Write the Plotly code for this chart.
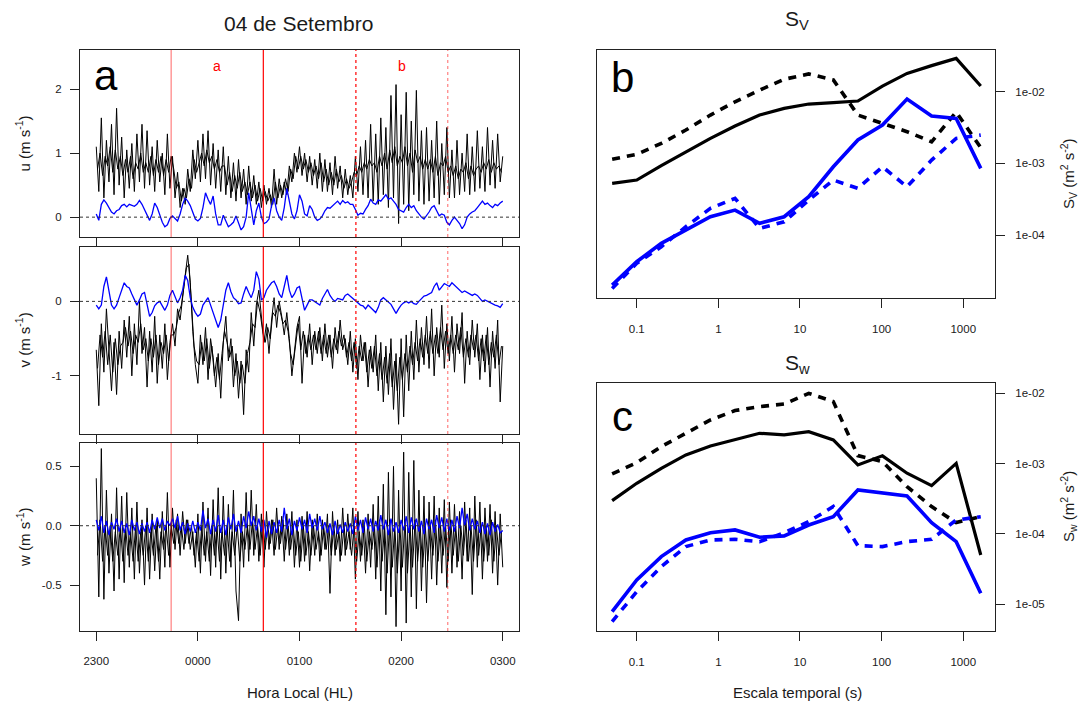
import numpy as np
import plotly.graph_objects as go

W, H = 1083, 705

# ---------------- DATA ----------------
hour_ticks = [0, 1, 2, 3, 4]
hour_labels = ["2300", "0000", "0100", "0200", "0300"]
marks_t = [0.737, 1.644, 2.555, 3.459]
mark_colors = ["rgba(255,0,0,0.5)", "rgb(255,0,0)", "rgb(255,0,0)", "rgba(255,0,0,0.5)"]
mark_dash = ["solid", "solid", "dot", "dot"]
period_labels = ["a", "b"]

# black series: excursion samples (161, every 1.5 min) + in-between core samples (160)
u_black = [1.10, 0.40, 1.55, 0.30, 1.20, 0.55, 1.45, 0.35, 1.70, 0.50,
           1.25, 0.30, 1.05, 0.45, 1.15, 0.40, 1.30, 0.55, 1.45, 0.45,
           1.35, 0.50, 1.10, 0.40, 1.20, 0.55, 1.00, 0.35, 1.30, 0.45,
           0.95, 0.30, 0.70, 0.15, 0.45, 0.20, 0.75, 0.40, 1.05, 0.60,
           1.20, 0.55, 1.30, 0.60, 1.35, 0.50, 1.15, 0.45, 1.05, 0.40,
           1.10, 0.35, 0.95, 0.30, 0.85, 0.25, 0.90, 0.30, 0.75, 0.20,
           0.80, 0.25, 0.65, 0.20, 0.55, 0.15, 0.50, 0.20, 0.45, 0.15,
           0.75, 0.20, 0.60, 0.30, 0.55, 0.35, 0.80, 0.55, 1.00, 0.70,
           1.10, 0.65, 1.00, 0.55, 0.95, 0.50, 0.90, 0.45, 1.00, 0.40,
           0.90, 0.40, 0.85, 0.35, 0.95, 0.45, 0.80, 0.30, 0.75, 0.35,
           0.65, 0.30, 0.95, 0.40, 1.10, 0.35, 1.20, 0.30, 1.45, 0.25,
           1.30, 0.20, 1.55, 0.35, 1.40, 0.15, 1.90, 0.30, 2.07, -0.10,
           1.60, 0.20, 1.95, 0.10, 1.50, 0.35, 1.98, 0.25, 1.35, 0.20,
           1.40, 0.25, 1.20, 0.30, 1.50, 0.20, 1.15, 0.35, 1.40, 0.30,
           1.05, 0.30, 1.20, 0.35, 1.00, 0.40, 1.30, 0.35, 1.10, 0.40,
           1.35, 0.45, 1.10, 0.40, 1.40, 0.50, 1.20, 0.45, 1.30, 0.55,
           0.95]
u_black_core = [0.75, 1.00, 0.65, 0.95, 0.80, 1.10, 0.70, 1.05, 0.75, 0.95,
                0.65, 0.90, 0.70, 0.95, 0.60, 0.85, 0.75, 1.00, 0.70, 0.85,
                0.70, 0.95, 0.65, 0.90, 0.70, 0.95, 0.65, 0.90, 0.70, 0.95,
                0.75, 0.45, 0.55, 0.25, 0.45, 0.30, 0.60, 0.45, 0.90, 0.70,
                0.85, 1.00, 0.80, 1.05, 0.85, 0.95, 0.75, 0.90, 0.70, 0.80,
                0.80, 0.50, 0.70, 0.40, 0.65, 0.45, 0.70, 0.40, 0.55, 0.35,
                0.55, 0.30, 0.50, 0.25, 0.45, 0.25, 0.40, 0.25, 0.35, 0.20,
                0.55, 0.30, 0.50, 0.35, 0.60, 0.40, 0.75, 0.60, 0.95, 0.75,
                0.95, 0.75, 0.90, 0.70, 0.85, 0.65, 0.80, 0.60, 0.85, 0.55,
                0.75, 0.50, 0.70, 0.50, 0.75, 0.55, 0.65, 0.45, 0.60, 0.45,
                0.55, 0.70, 0.65, 0.80, 0.70, 0.85, 0.75, 0.90, 0.80, 0.85,
                0.70, 0.95, 0.80, 1.00, 0.75, 1.05, 0.85, 1.10, 0.80, 0.95,
                0.85, 1.10, 0.80, 1.00, 0.70, 1.05, 0.85, 0.95, 0.75, 0.90,
                0.75, 0.90, 0.70, 0.95, 0.65, 0.85, 0.80, 0.95, 0.70, 0.80,
                0.65, 0.80, 0.60, 0.75, 0.70, 0.85, 0.60, 0.80, 0.65, 0.75,
                0.80, 0.70, 0.85, 0.75, 0.90, 0.70, 0.85, 0.75, 0.80, 0.70]

u_blue = [0.05, -0.05, 0.20, 0.27, 0.22, 0.15, 0.08, 0.05, 0.10, 0.12,
          0.18, 0.20, 0.16, 0.20, 0.18, 0.17, 0.20, 0.26, 0.20, 0.12,
          0.03, -0.05, 0.05, 0.22, 0.15, 0.03, -0.08, -0.15, -0.12, -0.02,
          0.02, -0.02, -0.06, 0.05, 0.20, 0.30, 0.25, 0.18, 0.08, -0.03,
          -0.06, -0.02, 0.15, 0.38, 0.28, 0.20, 0.33, 0.05, -0.12, -0.12,
          0.03, -0.05, -0.15, -0.12, -0.08, 0.02, -0.10, -0.20, -0.15, 0.00,
          0.38, 0.15, -0.12, 0.10, 0.22, 0.00, -0.10, -0.08, -0.03, 0.18,
          0.30, 0.10, 0.00, -0.05, 0.15, 0.45, 0.25, 0.05, -0.03, 0.10,
          0.35, 0.25, 0.05, 0.02, 0.18, 0.12, 0.00, -0.05, -0.03, 0.02,
          0.10, 0.15, 0.14, 0.18, 0.22, 0.25, 0.20, 0.26, 0.22, 0.24,
          0.20, 0.20, 0.12, 0.03, 0.06, 0.05, 0.12, 0.18, 0.28, 0.22,
          0.20, 0.27, 0.25, 0.30, 0.35, 0.28, 0.30, 0.25, 0.20, 0.12,
          0.10, 0.08, 0.15, 0.20, 0.15, 0.18, 0.10, 0.05, 0.00, -0.03,
          0.02, 0.08, 0.15, 0.18, 0.10, 0.02, 0.05, 0.03, -0.08, -0.12,
          -0.05, 0.00, -0.05, -0.10, -0.18, -0.12, 0.00, 0.05, 0.08, 0.10,
          0.15, 0.20, 0.25, 0.20, 0.22, 0.18, 0.15, 0.20, 0.18, 0.22,
          0.25]

v_black = [-0.65, -1.40, -0.30, -0.95, -0.10, -0.70, -1.20, -0.55, -1.25, -0.40,
           -0.90, -0.25, -0.75, -0.20, -1.00, -0.30, -0.85, 0.00, -0.70, -0.35,
           -1.15, -0.40, -0.95, -0.20, -1.10, -0.45, -0.90, -0.30, -1.05, -0.55,
           -0.30, -0.60, -0.10, -0.25, 0.10, 0.35, 0.62, 0.25, -0.40, -0.85,
           -1.10, -0.45, -0.85, -0.35, -1.05, -0.50, -0.75, -1.15, -0.70, -1.30,
           -0.55, -0.20, -0.80, -0.50, -1.15, -0.70, -1.30, -0.80, -1.52, -0.65,
           -0.95, -0.15, -0.60, -0.05, 0.15, -0.25, -0.55, -0.30, -0.70, -0.25,
           0.05, -0.35, 0.00, -0.20, -0.45, -0.15, -0.50, -1.00, -0.70, -0.35,
           -0.20, -1.10, -0.45, -0.75, -0.30, -0.85, -0.40, -0.70, -0.35, -0.80,
           -0.30, -0.75, -0.45, -0.90, -0.35, -0.70, -0.25, -0.65, -0.50, -0.85,
           -0.40, -0.95, -0.50, -1.05, -0.45, -0.80, -0.55, -1.15, -0.60, -0.95,
           -0.45, -1.20, -0.55, -1.35, -0.60, -1.25, -0.50, -1.45, -0.70, -1.65,
           -0.50, -1.55, -0.45, -1.20, -0.40, -1.05, -0.25, -0.95, -0.35, -0.85,
           -0.20, -0.90, -0.10, -1.00, -0.35, -0.75, -0.05, -0.90, -0.30, -0.80,
           -0.20, -0.95, -0.30, -0.70, -0.15, -1.10, -0.40, -0.85, -0.25, -0.75,
           -0.30, -1.05, -0.45, -0.95, -0.35, -1.15, -0.40, -0.90, -0.25, -1.35,
           -0.60]
v_black_core = [-0.90, -0.45, -0.75, -0.40, -0.85, -0.45, -0.95, -0.50, -0.85, -0.60,
                -0.55, -0.35, -0.60, -0.40, -0.70, -0.45, -0.55, -0.30, -0.65, -0.50,
                -0.80, -0.50, -0.75, -0.45, -0.85, -0.55, -0.70, -0.45, -0.80, -0.45,
                -0.45, -0.35, -0.15, -0.05, 0.20, 0.45, 0.50, 0.00, -0.60, -0.80,
                -0.85, -0.55, -0.80, -0.50, -0.90, -0.60, -1.00, -0.75, -1.05, -0.70,
                -0.40, -0.55, -0.75, -0.60, -1.00, -0.80, -1.10, -0.85, -1.10, -0.70,
                -0.55, -0.30, -0.35, 0.00, -0.15, -0.40, -0.55, -0.35, -0.50, -0.15,
                -0.20, -0.05, -0.15, -0.30, -0.25, -0.40, -0.70, -0.85, -0.55, -0.30,
                -0.65, -0.40, -0.70, -0.45, -0.65, -0.45, -0.65, -0.40, -0.70, -0.45,
                -0.70, -0.45, -0.75, -0.50, -0.65, -0.40, -0.60, -0.45, -0.75, -0.55,
                -0.80, -0.55, -0.90, -0.60, -0.80, -0.55, -0.95, -0.65, -0.90, -0.60,
                -1.00, -0.70, -1.05, -0.75, -1.10, -0.70, -1.15, -0.80, -1.20, -0.75,
                -1.05, -0.70, -0.95, -0.60, -0.85, -0.55, -0.80, -0.50, -0.75, -0.45,
                -0.70, -0.40, -0.70, -0.45, -0.70, -0.35, -0.65, -0.40, -0.70, -0.45,
                -0.70, -0.45, -0.65, -0.35, -0.75, -0.50, -0.75, -0.45, -0.65, -0.45,
                -0.80, -0.50, -0.80, -0.45, -0.85, -0.55, -0.75, -0.45, -0.85, -0.60]

v_blue = [-0.05, -0.10, -0.05, 0.20, 0.33, 0.12, -0.05, -0.10, -0.05, 0.05,
          0.15, 0.25, 0.20, 0.18, 0.10, 0.03, -0.05, 0.02, 0.10, 0.12,
          -0.05, -0.20, -0.15, -0.06, -0.02, 0.00, -0.06, -0.12, -0.05, 0.08,
          0.15, 0.05, -0.02, 0.05, 0.15, 0.35, 0.28, 0.05, -0.08, -0.15,
          -0.20, -0.17, -0.05, 0.00, 0.05, -0.05, -0.15, -0.22, -0.35, -0.25,
          -0.05, 0.15, 0.25, 0.13, 0.05, 0.02, -0.03, -0.02, 0.10, 0.20,
          0.12, 0.05, 0.15, 0.40, 0.30, 0.02, 0.05, 0.15, 0.20, 0.25,
          0.27, 0.20, 0.10, 0.05, 0.20, 0.35, 0.15, 0.05, 0.10, 0.18,
          0.20, 0.02, -0.12, -0.05, 0.02, 0.02, 0.00, -0.03, -0.05, 0.04,
          0.10, 0.16, 0.08, 0.03, 0.00, 0.04, 0.03, 0.02, 0.08, 0.10,
          0.07, 0.04, 0.00, -0.03, -0.05, -0.06, -0.10, -0.05, -0.08, -0.12,
          -0.15, -0.08, 0.02, 0.05, 0.02, 0.00, -0.04, -0.10, -0.16, -0.10,
          -0.05, -0.02, 0.00, -0.02, 0.00, -0.03, -0.04, 0.00, 0.04, 0.07,
          0.08, 0.10, 0.12, 0.20, 0.25, 0.15, 0.20, 0.24, 0.22, 0.20,
          0.25, 0.22, 0.18, 0.15, 0.12, 0.14, 0.12, 0.10, 0.08, 0.10,
          0.08, 0.04, 0.00, 0.02, 0.00, -0.02, -0.03, -0.05, -0.06, -0.08,
          -0.03]

w_black = [0.40, -0.60, 0.65, -0.62, 0.30, -0.40, 0.10, -0.55, 0.32, -0.45,
           0.25, -0.48, 0.28, -0.35, 0.15, -0.45, 0.20, -0.40, 0.05, -0.50,
           0.15, -0.45, 0.10, -0.38, 0.05, -0.45, 0.12, -0.35, 0.28, -0.35,
           0.15, -0.20, 0.10, -0.25, 0.12, -0.15, 0.05, -0.20, -0.05, -0.35,
           0.10, -0.40, 0.20, -0.30, 0.15, -0.42, 0.22, -0.35, 0.32, -0.45,
           0.25, -0.40, 0.18, -0.35, 0.30, -0.55, -0.80, 0.10, -0.35, 0.28,
           -0.30, 0.30, -0.25, 0.18, -0.30, 0.10, -0.35, 0.12, -0.20, 0.05,
           -0.25, 0.15, -0.20, 0.08, -0.30, 0.10, -0.25, 0.12, -0.35, 0.05,
           -0.35, 0.08, -0.30, 0.12, -0.38, 0.05, -0.25, 0.10, -0.30, 0.05,
           -0.20, 0.10, -0.57, 0.12, -0.25, 0.05, -0.30, 0.15, -0.25, 0.10,
           -0.20, 0.15, -0.45, 0.12, -0.30, 0.05, -0.40, 0.10, -0.35, 0.18,
           -0.45, 0.25, -0.55, 0.35, -0.75, 0.45, -0.60, 0.50, -0.85, 0.30,
           -0.55, 0.62, -0.82, 0.45, -0.60, 0.55, -0.70, 0.30, -0.55, 0.25,
           -0.65, 0.20, -0.45, 0.25, -0.50, 0.15, -0.40, 0.22, -0.52, 0.20,
           -0.40, 0.18, -0.35, 0.12, -0.45, 0.20, -0.30, 0.15, -0.58, 0.25,
           -0.35, 0.20, -0.45, 0.15, -0.30, 0.18, -0.40, 0.12, -0.50, 0.10,
           -0.35]
w_black_core = [-0.25, 0.05, -0.30, 0.00, -0.25, 0.00, -0.30, -0.05, -0.25, 0.00,
                -0.30, 0.00, -0.25, -0.05, -0.30, 0.00, -0.30, -0.05, -0.25, 0.00,
                -0.30, -0.05, -0.25, 0.00, -0.30, -0.05, -0.20, 0.00, -0.25, 0.00,
                -0.15, 0.05, -0.15, 0.00, -0.20, 0.05, -0.15, 0.00, -0.25, -0.05,
                -0.30, 0.00, -0.25, -0.05, -0.30, 0.00, -0.25, 0.00, -0.30, -0.05,
                -0.25, 0.00, -0.30, -0.05, -0.25, 0.00, -0.30, -0.05, -0.20, 0.00,
                -0.20, 0.05, -0.20, 0.00, -0.25, 0.05, -0.20, 0.00, -0.15, 0.05,
                -0.20, 0.00, -0.15, 0.05, -0.20, 0.00, -0.20, 0.00, -0.25, -0.05,
                -0.30, 0.00, -0.25, -0.05, -0.25, 0.00, -0.20, -0.05, -0.25, 0.00,
                -0.20, 0.00, -0.25, 0.00, -0.20, -0.05, -0.25, 0.00, -0.20, -0.05,
                -0.25, 0.00, -0.30, -0.05, -0.25, 0.00, -0.30, -0.05, -0.20, 0.00,
                -0.35, 0.05, -0.30, 0.00, -0.40, 0.05, -0.35, 0.00, -0.40, 0.00,
                -0.35, 0.05, -0.40, 0.00, -0.35, 0.05, -0.30, 0.00, -0.35, 0.00,
                -0.30, 0.00, -0.25, 0.05, -0.30, 0.00, -0.25, 0.00, -0.30, 0.05,
                -0.25, 0.00, -0.30, 0.00, -0.25, 0.05, -0.30, 0.00, -0.30, 0.05,
                -0.25, 0.00, -0.30, 0.00, -0.25, 0.05, -0.30, 0.00, -0.25, -0.05]

w_blue = [0.05, -0.04, 0.08, -0.06, 0.04, -0.08, 0.03, -0.03, 0.06, -0.05,
          0.04, -0.06, 0.02, -0.08, 0.05, -0.04, 0.03, -0.07, 0.02, -0.05,
          0.03, -0.06, 0.05, -0.03, 0.07, -0.02, 0.06, -0.04, 0.04, 0.00,
          0.06, -0.02, 0.08, -0.04, 0.03, -0.07, 0.02, -0.05, 0.04, -0.06,
          0.03, -0.04, 0.13, -0.02, 0.06, -0.07, 0.05, -0.05, 0.09, -0.06,
          0.05, -0.08, 0.07, -0.03, 0.10, -0.05, 0.04, -0.06, 0.08, -0.02,
          0.12, 0.00, 0.08, -0.04, 0.06, -0.05, 0.05, -0.10, 0.04, -0.07,
          0.03, -0.06, 0.05, -0.05, 0.15, -0.03, 0.06, -0.08, 0.04, -0.04,
          0.07, -0.03, 0.05, -0.06, 0.10, -0.02, 0.06, -0.04, 0.08, -0.03,
          0.03, -0.06, 0.02, -0.08, 0.04, -0.07, 0.01, -0.06, 0.03, -0.05,
          0.02, -0.07, 0.08, -0.04, 0.05, -0.06, 0.07, -0.03, 0.06, -0.05,
          0.04, -0.04, 0.09, -0.03, 0.05, -0.08, 0.06, -0.05, 0.03, -0.06,
          0.05, -0.04, 0.08, -0.06, 0.07, -0.03, 0.06, -0.05, 0.04, -0.07,
          0.06, -0.03, 0.05, -0.06, 0.09, -0.02, 0.07, -0.05, 0.06, -0.04,
          0.05, -0.05, 0.08, -0.02, 0.15, 0.00, 0.10, -0.04, 0.06, -0.03,
          0.04, -0.06, 0.03, -0.07, 0.02, -0.08, 0.03, -0.05, 0.01, -0.06,
          -0.04]

scales = [0.05, 0.1, 0.2, 0.4, 0.8, 1.6, 3.2, 6.4, 12.8, 25.6, 51.2, 102.4, 204.8, 409.6, 819.2, 1638.4]
scale_ticks = [0.1, 1, 10, 100, 1000]
scale_tick_labels = ["0.1", "1", "10", "100", "1000"]

sv_black_solid = [5.26e-4, 5.85e-4, 9.3e-4, 1.46e-3, 2.23e-3, 3.32e-3, 4.72e-3, 5.85e-3,
                  6.73e-3, 7.03e-3, 7.41e-3, 1.20e-2, 1.80e-2, 2.31e-2, 2.92e-2, 1.20e-2]
sv_black_dash = [1.14e-3, 1.34e-3, 1.90e-3, 2.92e-3, 4.72e-3, 7.24e-3, 1.05e-2, 1.49e-2,
                 1.77e-2, 1.46e-2, 4.72e-3, 3.6e-3, 2.77e-3, 2.0e-3, 5.21e-3, 1.66e-3]
sv_blue_solid = [2.0e-5, 4.25e-5, 7.66e-5, 1.17e-4, 1.80e-4, 2.23e-4, 1.46e-4, 1.80e-4,
                 3.43e-4, 8.97e-4, 2.12e-3, 3.43e-3, 7.91e-3, 4.57e-3, 4.25e-3, 8.51e-4]
sv_blue_dash = [1.80e-5, 4.03e-5, 6.87e-5, 1.31e-4, 2.36e-4, 3.25e-4, 1.24e-4, 1.53e-4,
                3.08e-4, 5.85e-4, 4.48e-4, 8.97e-4, 4.72e-4, 1.11e-3, 2.23e-3, 2.48e-3]

sw_black_solid = [2.98e-4, 5.25e-4, 8.59e-4, 1.33e-3, 1.78e-3, 2.17e-3, 2.70e-3, 2.56e-3,
                  2.85e-3, 2.17e-3, 9.57e-4, 1.29e-3, 7.30e-4, 4.86e-4, 1.01e-3, 5.02e-5]
sw_black_dash = [7.13e-4, 1.03e-3, 1.75e-3, 2.70e-3, 4.18e-3, 5.68e-3, 6.46e-3, 7.05e-3,
                 1.0e-2, 7.62e-3, 1.3e-3, 1.07e-3, 4.71e-4, 2.45e-4, 1.45e-4, 1.76e-4]
sw_blue_solid = [7.87e-6, 2.22e-5, 4.76e-5, 8.22e-5, 1.04e-4, 1.14e-4, 8.97e-5, 9.38e-5,
                 1.34e-4, 1.76e-4, 4.23e-4, 3.87e-4, 3.47e-4, 1.45e-4, 7.78e-5, 1.43e-5]
sw_blue_dash = [5.68e-6, 1.51e-5, 3.44e-5, 6.61e-5, 8.22e-5, 8.39e-5, 7.78e-5, 1.04e-4,
                1.50e-4, 2.45e-4, 6.82e-5, 6.61e-5, 7.78e-5, 8.39e-5, 1.58e-4, 1.76e-4]

sv_ticks = [1e-2, 1e-3, 1e-4]
sv_tick_labels = ["1e-02", "1e-03", "1e-04"]
sw_ticks = [1e-2, 1e-3, 1e-4, 1e-5]
sw_tick_labels = ["1e-02", "1e-03", "1e-04", "1e-05"]

# ---------------- FIGURE ----------------
t_main = np.linspace(0, 4, len(u_black))
t_mid = (t_main[:-1] + t_main[1:]) / 2

FONT = "Liberation Sans, Arial, sans-serif"
INK = "#1a1a1a"


def fx(px):
    return px / W


def fy(py):
    return 1 - py / H


fig = go.Figure()

left_panels = [
    ("x", "y", u_black, u_black_core, u_blue),
    ("x2", "y2", v_black, v_black_core, v_blue),
    ("x3", "y3", w_black, w_black_core, w_blue),
]
for xa, ya, blk, core, blu in left_panels:
    fig.add_trace(go.Scatter(x=t_main, y=blk, xaxis=xa, yaxis=ya, mode="lines",
                             line=dict(color="black", width=1), showlegend=False))
    fig.add_trace(go.Scatter(x=t_mid, y=core, xaxis=xa, yaxis=ya, mode="lines",
                             line=dict(color="black", width=1), showlegend=False))
    fig.add_trace(go.Scatter(x=t_main, y=blu, xaxis=xa, yaxis=ya, mode="lines",
                             line=dict(color="#0000ff", width=1.3), showlegend=False))

right_panels = [
    ("x4", "y4", sv_black_solid, sv_black_dash, sv_blue_solid, sv_blue_dash),
    ("x5", "y5", sw_black_solid, sw_black_dash, sw_blue_solid, sw_blue_dash),
]
for xa, ya, bs, bd, ls, ld in right_panels:
    fig.add_trace(go.Scatter(x=scales, y=bs, xaxis=xa, yaxis=ya, mode="lines",
                             line=dict(color="black", width=3.2), showlegend=False))
    fig.add_trace(go.Scatter(x=scales, y=bd, xaxis=xa, yaxis=ya, mode="lines",
                             line=dict(color="black", width=3.6, dash="8px,7px"), showlegend=False))
    fig.add_trace(go.Scatter(x=scales, y=ls, xaxis=xa, yaxis=ya, mode="lines",
                             line=dict(color="#0000ff", width=3.6), showlegend=False))
    fig.add_trace(go.Scatter(x=scales, y=ld, xaxis=xa, yaxis=ya, mode="lines",
                             line=dict(color="#0000ff", width=3.6, dash="8px,7px"), showlegend=False))

tickfont = dict(family=FONT, size=11.5, color=INK)
frame = dict(showline=True, linecolor="#222", linewidth=1, mirror=True,
             ticks="outside", ticklen=9, tickcolor="#222", showgrid=False,
             zeroline=False, tickfont=tickfont)

lx = [fx(80), fx(519)]
left_y = [(50, 237), (247, 434), (443, 631)]
left_ranges = [[-0.31, 2.61], [-1.78, 0.73], [-0.887, 0.697]]
left_tv = [[0, 1, 2], [-1, 0], [-0.5, 0.0, 0.5]]
left_tt = [["0", "1", "2"], ["-1", "0"], ["-0.5", "0.0", "0.5"]]

for i in range(3):
    sfx = "" if i == 0 else str(i + 1)
    fig.layout["xaxis" + sfx] = dict(frame, domain=lx, range=[-0.16, 4.16],
                                     tickvals=hour_ticks, ticktext=hour_labels,
                                     showticklabels=(i == 2), ticklabelstandoff=10,
                                     anchor="y" + sfx)
    y0, y1 = left_y[i]
    fig.layout["yaxis" + sfx] = dict(frame, domain=[fy(y1), fy(y0)], range=left_ranges[i],
                                     tickvals=left_tv[i], ticktext=left_tt[i],
                                     ticklabelstandoff=6, anchor="x" + sfx)

rx = [fx(597.3), fx(995)]
fig.layout["xaxis4"] = dict(frame, type="log", domain=rx, range=[-1.483, 3.389],
                            tickvals=scale_ticks, ticktext=scale_tick_labels,
                            ticklabelstandoff=11, anchor="y4")
fig.layout["yaxis4"] = dict(frame, type="log", domain=[fy(297.7), fy(50)], range=[-4.874, -1.418],
                            tickvals=sv_ticks, ticktext=sv_tick_labels, side="right",
                            ticklabelstandoff=8, anchor="x4")
fig.layout["xaxis5"] = dict(frame, type="log", domain=rx, range=[-1.483, 3.389],
                            tickvals=scale_ticks, ticktext=scale_tick_labels,
                            ticklabelstandoff=11, anchor="y5")
fig.layout["yaxis5"] = dict(frame, type="log", domain=[fy(630.7), fy(382.7)], range=[-5.376, -1.849],
                            tickvals=sw_ticks, ticktext=sw_tick_labels, side="right",
                            ticklabelstandoff=8, anchor="x5")

shapes = []
for i in range(3):
    sfx = "" if i == 0 else str(i + 1)
    xr = "x" + sfx
    yr = "y" + sfx
    shapes.append(dict(type="line", xref=xr + " domain", yref=yr, x0=0, x1=1, y0=0, y1=0,
                       line=dict(color="#333", width=1, dash="dot"), layer="above"))
    for mt, mc, md in zip(marks_t, mark_colors, mark_dash):
        shapes.append(dict(type="line", xref=xr, yref=yr + " domain", x0=mt, x1=mt, y0=0, y1=1,
                           line=dict(color=mc, width=1.2, dash=md), layer="above"))

annotations = []


def ann(text, x, y, size, color=INK, angle=0, xref="paper", yref="paper"):
    annotations.append(dict(text=text, x=x, y=y, xref=xref, yref=yref, showarrow=False,
                            textangle=angle, xanchor="center", yanchor="middle",
                            font=dict(family=FONT, size=size, color=color)))


ann("04 de Setembro", fx(298), fy(23), 21)
ann("a", fx(106), fy(75), 42, color="black")
ann("b", fx(622), fy(77), 42, color="black")
ann("c", fx(622), fy(416), 42, color="black")
ann(period_labels[0], (marks_t[0] + marks_t[1]) / 2, fy(66), 14, color="red", xref="x")
ann(period_labels[1], (marks_t[2] + marks_t[3]) / 2, fy(66), 14, color="red", xref="x")
ann("u (m s<sup>-1</sup>)", fx(23), fy(143.5), 15, angle=-90)
ann("v (m s<sup>-1</sup>)", fx(23), fy(340.5), 15, angle=-90)
ann("w (m s<sup>-1</sup>)", fx(23), fy(537), 15, angle=-90)
ann("Hora Local (HL)", fx(300), fy(692), 15)
ann("Escala temporal (s)", fx(797), fy(692), 15)
ann("S<sub>V</sub>", fx(797), fy(20), 21)
ann("S<sub>w</sub>", fx(797), fy(364), 21)
ann("S<sub>V</sub> (m<sup>2</sup> s<sup>-2</sup>)", fx(1068), fy(174), 15, angle=-90)
ann("S<sub>w</sub> (m<sup>2</sup> s<sup>-2</sup>)", fx(1068), fy(507), 15, angle=-90)

fig.update_layout(width=W, height=H, margin=dict(l=0, r=0, t=0, b=0),
                  paper_bgcolor="white", plot_bgcolor="white",
                  font=dict(family=FONT, color=INK),
                  shapes=shapes, annotations=annotations, showlegend=False)

fig.write_html("out.html")
